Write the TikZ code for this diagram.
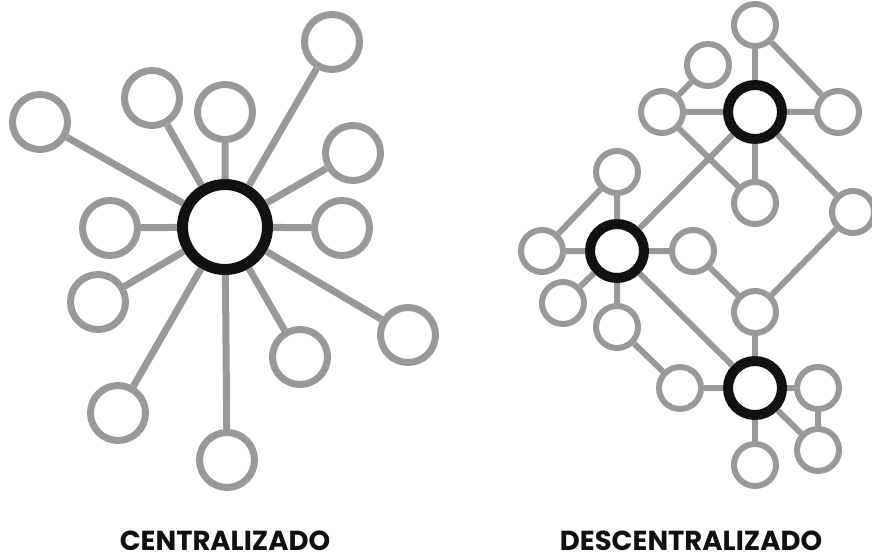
\documentclass[tikz,border=0pt]{standalone}
\usepackage{fontspec}
\setmainfont{Poppins}
\usepackage{xcolor}
\usetikzlibrary{positioning}
\definecolor{g}{HTML}{999999}
\definecolor{b}{HTML}{111111}
\tikzset{
    link/.style={g,line width=7pt},
    sat/.style={circle,draw=g,fill=white,line width=7pt,minimum size=55pt,inner sep=0pt},
    hub/.style={circle,draw=b,fill=white,line width=11pt,minimum size=85pt,inner sep=0pt},
    ssat/.style={circle,draw=g,fill=white,line width=6pt,minimum size=42pt,inner sep=0pt},
    shub/.style={circle,draw=b,fill=white,line width=10pt,minimum size=54pt,inner sep=0pt},
    caption/.style={font=\bfseries\fontsize{27.5}{30}\selectfont,text=b,inner sep=0pt}
}

\begin{document}
\begin{tikzpicture}[x=1pt,y=-1pt]
    \useasboundingbox (0,0) rectangle (872,559);
    % centralizado
    \node[hub] (c) at (225,227) {};
    \node[sat] (c1) at (40,122) {};
    \node[sat] (c2) at (152,98) {};
    \node[sat] (c3) at (225,112) {};
    \node[sat] (c4) at (332,42) {};
    \node[sat] (c5) at (353,153) {};
    \node[sat] (c6) at (342,228) {};
    \node[sat] (c7) at (110,228) {};
    \node[sat] (c8) at (98,302) {};
    \node[sat] (c9) at (408,335) {};
    \node[sat] (c10) at (300,357) {};
    \node[sat] (c11) at (118,413) {};
    \node[sat] (c12) at (227,460) {};
    \draw[link] (c) -- (c1) (c) -- (c2) (c) -- (c3) (c) -- (c4)
                (c) -- (c5) (c) -- (c6) (c) -- (c7) (c) -- (c8)
                (c) -- (c9) (c) -- (c10) (c) -- (c11) (c) -- (c12);
    \node[caption] (tc) at (225,541) {CENTRALIZADO};
    % descentralizado
    \node[shub] (h1) at (755,112) {};
    \node[shub] (h2) at (617,251) {};
    \node[shub] (h3) at (755,388) {};
    \node[ssat] (d1) at (755,25) {};
    \node[ssat] (d2) at (708,65) {};
    \node[ssat] (d3) at (662,112) {};
    \node[ssat] (d4) at (838,112) {};
    \node[ssat] (d5) at (755,203) {};
    \node[ssat] (d6) at (853,212) {};
    \node[ssat] (d7) at (617,172) {};
    \node[ssat] (d8) at (542,251) {};
    \node[ssat] (d9) at (693,251) {};
    \node[ssat] (d10) at (563,303) {};
    \node[ssat] (d11) at (617,327) {};
    \node[ssat] (d12) at (755,312) {};
    \node[ssat] (d13) at (680,388) {};
    \node[ssat] (d14) at (818,388) {};
    \node[ssat] (d15) at (818,450) {};
    \node[ssat] (d16) at (755,465) {};
    \draw[link,line width=6pt] (d1) -- (h1) (d1) -- (d4) (d2) -- (d3) (d3) -- (h1)
                (h1) -- (d4) (d3) -- (d5) (h1) -- (d5) (h1) -- (d6) (h1) -- (h2)
                (d7) -- (h2) (d7) -- (d8) (d8) -- (h2) (h2) -- (d9) (h2) -- (d10)
                (h2) -- (d11) (h2) -- (h3) (d9) -- (d12) (d6) -- (d12) (d12) -- (h3)
                (d11) -- (d13) (d13) -- (h3) (h3) -- (d14) (h3) -- (d15)
                (d14) -- (d15) (h3) -- (d16);
    \node[caption] (td) at (691,541) {DESCENTRALIZADO};
\end{tikzpicture}
\end{document}
